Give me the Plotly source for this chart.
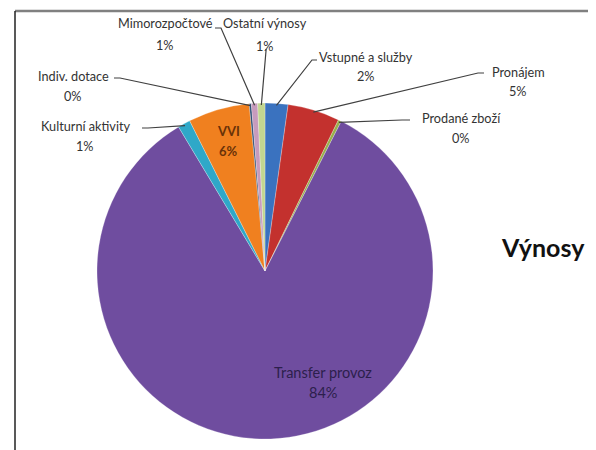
import math
import plotly.graph_objects as go

# The page body has an 8px default margin: the figure is sized so it fits the 596x450 window.
PAGE_W, PAGE_H, OFF = 596, 450, 8
W, H = PAGE_W - OFF, PAGE_H - OFF

# ---- data ----
categories = ["Vstupné a služby", "Pronájem", "Prodané zboží", "Transfer provoz",
              "Kulturní aktivity", "VVI", "Indiv. dotace", "Mimorozpočtové", "Ostatní výnosy"]
values = [2.2, 5.0, 0.3, 83.9, 1.2, 5.9, 0.2, 0.6, 0.7]
colors = ["#3a72bf", "#c3312e", "#98b04a", "#6f4d9f", "#2fa8c8", "#f0801f",
          "#2c4d75", "#c79bbd", "#c2d690"]
title_text = "Výnosy"

# ---- pie geometry (page pixels) ----
CX, CY, R = 265, 271, 168

def px(x):
    return (x - OFF) / W

def py(y):
    return 1 - (y - OFF) / H

total = sum(values)
pct = [round(v / total * 100) for v in values]

def tip(i, r=R):
    cum = sum(values[:i]) + values[i] / 2
    t = 2 * math.pi * cum / total
    return CX + r * math.sin(t), CY - r * math.cos(t)

fig = go.Figure(go.Pie(
    labels=categories, values=values, sort=False, direction="clockwise",
    rotation=0, marker=dict(colors=colors, line=dict(color="rgba(255,255,255,0.5)", width=0.5)),
    textinfo="none", hoverinfo="label+percent", showlegend=False,
    domain=dict(x=[px(CX - R), px(CX + R)], y=[py(CY + R), py(CY - R)]),
))

FONT = "Lato, Open Sans, sans-serif"
TXT = "#333333"

annotations = []
shapes = []

def label(x, y, text, size=12.7, color=TXT, bold=False):
    annotations.append(dict(
        x=px(x), y=py(y), xref="paper", yref="paper", showarrow=False,
        xanchor="center", yanchor="middle",
        text=f"<b>{text}</b>" if bold else text,
        font=dict(family=FONT, size=size, color=color)))

# outside labels: (index, label centre x, name y, pct y, leader start point, elbow point)
outside = [
    (7, 165, 23, 45, (215, 28), (221, 28)),
    (8, 265, 23, 46, (266, 49), (266, 51)),
    (0, 366, 57, 76, (317, 60), (312, 60)),
    (1, 518, 72, 91, (484, 73), (478, 73)),
    (2, 461, 118, 138, (410, 120), (402, 120)),
    (6, 73, 76, 96, (114, 78), (120, 78)),
    (4, 85, 126, 146, (142, 128), (148, 128)),
]

for i, lx, ny, pyy, start, elbow in outside:
    label(lx, ny, categories[i])
    label(lx, pyy, f"{pct[i]}%")
    tx, ty = tip(i, R - 2)
    path = f"M {px(start[0])} {py(start[1])} L {px(elbow[0])} {py(elbow[1])} L {px(tx)} {py(ty)}"
    shapes.append(dict(type="path", xref="paper", yref="paper", path=path,
                       line=dict(color="#404040", width=1.2)))

# inside labels
label(229, 131, categories[5], size=13, color="#6a3208", bold=True)
label(229, 151, f"{pct[5]}%", size=13, color="#6a3208", bold=True)
label(323, 372, categories[3], size=14.5, color="#2c1f4c")
label(323, 392, f"{pct[3]}%", size=14.5, color="#2c1f4c")
# chart title
label(543, 247, title_text, size=25, color="#111111", bold=True)

# frame
shapes += [
    dict(type="line", xref="paper", yref="paper", x0=px(15), x1=px(594), y0=py(11), y1=py(11),
         line=dict(color="#808080", width=2.5)),
    dict(type="line", xref="paper", yref="paper", x0=px(15), x1=px(15), y0=py(11), y1=py(452),
         line=dict(color="#222222", width=1.5)),
    dict(type="line", xref="paper", yref="paper", x0=px(594), x1=px(594), y0=py(11), y1=py(452),
         line=dict(color="#222222", width=1.5)),
]

fig.update_layout(
    width=W, height=H, margin=dict(l=0, r=0, t=0, b=0),
    paper_bgcolor="white", plot_bgcolor="white",
    annotations=annotations, shapes=shapes,
)

fig.write_html("out.html")
